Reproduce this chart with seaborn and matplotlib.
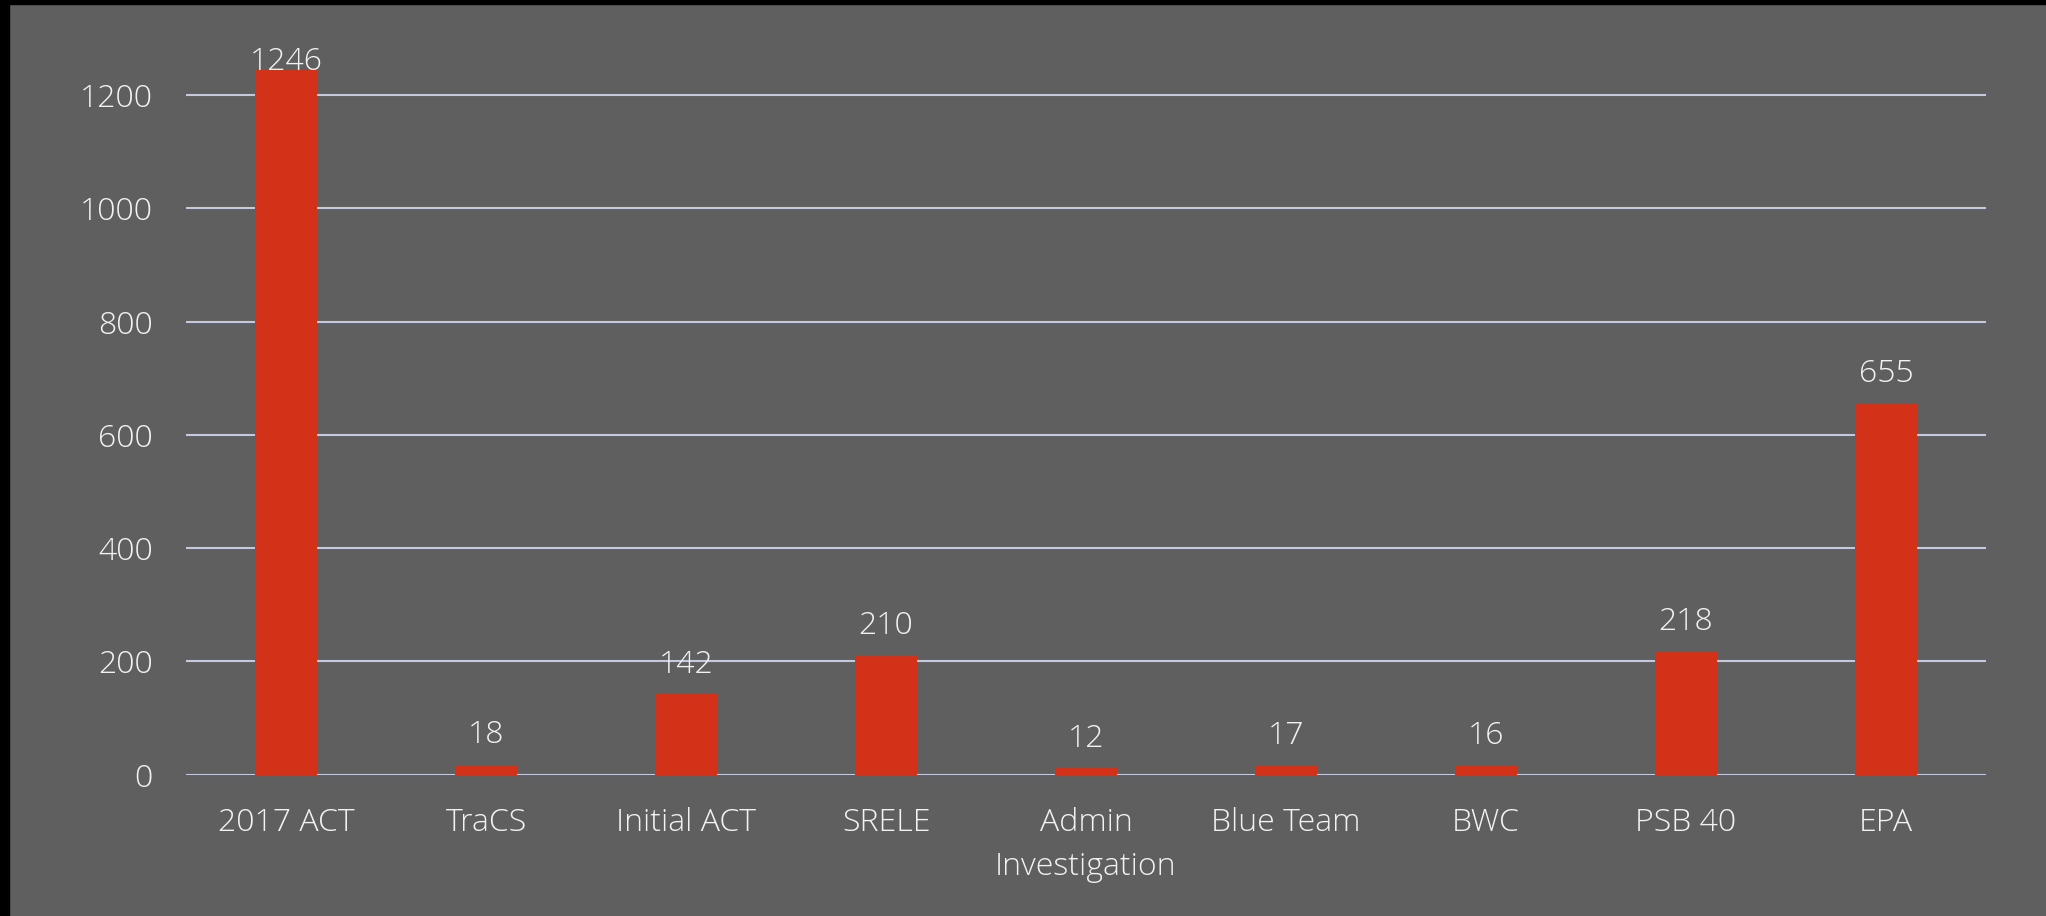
import numpy as np
import pandas as pd
import matplotlib
matplotlib.use("Agg")
import matplotlib.pyplot as plt
import seaborn as sns
from matplotlib.patches import Rectangle

categories = ["2017 ACT", "TraCS", "Initial ACT", "SRELE", "Admin\nInvestigation",
              "Blue Team", "BWC", "PSB 40", "EPA"]
counts = [1246, 18, 142, 210, 12, 17, 16, 218, 655]

bg = "#5f5f5f"
bar_color = "#d33218"
grid_color = "#c5c9e0"
text_color = "#f2f2f2"

sns.set_theme(style="white")
plt.rcParams["font.family"] = ["Open Sans", "DejaVu Sans"]
plt.rcParams["font.weight"] = "light"

data = pd.DataFrame({"name": categories, "count": counts})

W, H = 2046, 916
fig = plt.figure(figsize=(W / 100, H / 100), dpi=100, facecolor=bg)
# black edge on the top and left
fig.patches.append(Rectangle((0, 0), 9 / W, 1, transform=fig.transFigure, color="black", zorder=-1))
fig.patches.append(Rectangle((0, 1 - 4 / H), 1, 4 / H, transform=fig.transFigure, color="black", zorder=-1))

y0 = 774.7
ppu = 0.5665
ytop = 1286
ax = fig.add_axes([186 / W, (H - y0) / H, 1800 / W, ytop * ppu / H])
ax.set_facecolor(bg)

sns.barplot(data=data, x="name", y="count", color=bar_color, width=0.31,
            saturation=1, linewidth=0, ax=ax, zorder=3)

ax.set_xlim(-0.5, len(categories) - 0.5)
ax.set_ylim(0, ytop)
ax.set_yticks(np.arange(0, 1201, 200))
for t in np.arange(0, 1201, 200):
    ax.axhline(t, color=grid_color, lw=1.5, zorder=1)

for s in ax.spines.values():
    s.set_visible(False)
ax.set_xlabel("")
ax.set_ylabel("")
ax.tick_params(axis="y", length=0, pad=24, labelsize=23, labelcolor=text_color)
ax.tick_params(axis="x", length=0, pad=23, labelsize=23, labelcolor=text_color)
for lab in ax.get_xticklabels():
    lab.set_linespacing(1.5)

for i, v in enumerate(counts):
    ax.text(i, min(v + 80, ytop), str(v), ha="center", va="top",
            fontsize=23, color=text_color, zorder=4, clip_on=False)

fig.savefig("out.png", dpi=100, facecolor=bg)
